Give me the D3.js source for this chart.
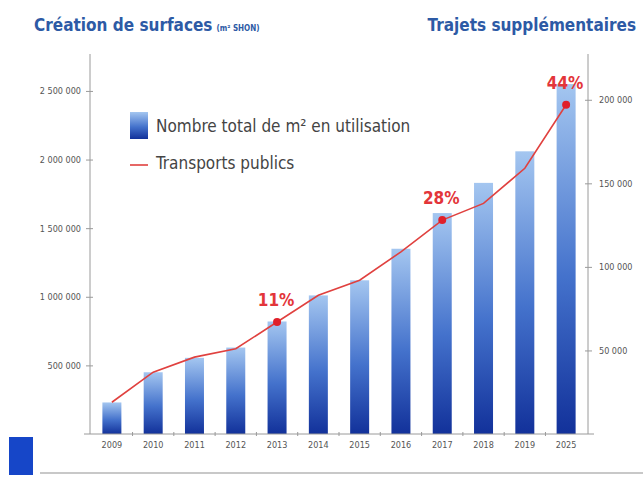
<!DOCTYPE html>
<html>
<head>
<meta charset="utf-8">
<script src="https://cdn.jsdelivr.net/npm/d3@7"></script>
<style>
  body { margin: 0; background: #fff; }
  svg { display: block; }
</style>
</head>
<body>
<div id="chart"></div>
<script>
// data
const years = ['2009', '2010', '2011', '2012', '2013', '2014', '2015', '2016', '2017', '2018', '2019', '2025'];
const surfaces = [230000, 450000, 555000, 630000, 820000, 1010000, 1120000, 1350000, 1610000, 1830000, 2060000, 2550000];
const trajets = [19000, 37000, 46000, 51000, 67000, 83000, 92000, 109000, 128000, 138000, 159000, 197000];
const leftTicks = [500000, 1000000, 1500000, 2000000, 2500000];
const rightTicks = [50000, 100000, 150000, 200000];
const highlights = [{ year: '2013', label: '11%' }, { year: '2017', label: '28%' }, { year: '2025', label: '44%' }];

const width = 643, height = 482;
const margin = { top: 58, right: 55, bottom: 48, left: 90 };
const font = '"Liberation Sans Narrow", "DejaVu Sans Condensed", sans-serif';

const svg = d3.select('#chart').append('svg')
  .attr('width', width)
  .attr('height', height)
  .style('font-family', font);

const x = d3.scaleBand()
  .domain(years)
  .range([margin.left, width - margin.right])
  .paddingInner(0.54)
  .paddingOuter(0.3);

const yLeft = d3.scaleLinear()
  .domain([0, 2740000])
  .range([height - margin.bottom, margin.top]);

const yRight = d3.scaleLinear()
  .domain([0, 225000])
  .range([height - margin.bottom, margin.top]);

// bar gradient
const grad = svg.append('defs').append('linearGradient')
  .attr('id', 'barGrad')
  .attr('x1', 0).attr('y1', 0).attr('x2', 0).attr('y2', 1);
grad.append('stop').attr('offset', '0%').attr('stop-color', '#a4c6f0');
grad.append('stop').attr('offset', '55%').attr('stop-color', '#4472cc');
grad.append('stop').attr('offset', '100%').attr('stop-color', '#12319a');

// titles
svg.append('text')
  .attr('x', 34).attr('y', 31)
  .attr('fill', '#2d5aa5')
  .attr('font-size', 17).attr('font-weight', 'bold')
  .text('Création de surfaces')
  .append('tspan')
  .attr('font-size', 8)
  .attr('dx', 4)
  .text('(m² SHON)');

svg.append('text')
  .attr('x', 636).attr('y', 31)
  .attr('text-anchor', 'end')
  .attr('fill', '#2d5aa5')
  .attr('font-size', 17).attr('font-weight', 'bold')
  .text('Trajets supplémentaires');

// bars
svg.append('g')
  .selectAll('rect')
  .data(years)
  .join('rect')
  .attr('x', d => x(d))
  .attr('y', (d, i) => yLeft(surfaces[i]))
  .attr('width', x.bandwidth())
  .attr('height', (d, i) => yLeft(0) - yLeft(surfaces[i]))
  .attr('fill', 'url(#barGrad)');

// left axis
const leftAxis = svg.append('g')
  .attr('transform', `translate(${margin.left},0)`)
  .call(d3.axisLeft(yLeft).tickValues(leftTicks)
    .tickFormat(d => d3.format(',')(d).replace(/,/g, ' '))
    .tickSize(4).tickPadding(5));
leftAxis.select('.domain').attr('d', `M0,${yLeft(0)}V${margin.top - 4}`);

// right axis
const rightAxis = svg.append('g')
  .attr('transform', `translate(${width - margin.right},0)`)
  .call(d3.axisRight(yRight).tickValues(rightTicks)
    .tickFormat(d => d3.format(',')(d).replace(/,/g, ' '))
    .tickSize(4).tickPadding(7));
rightAxis.select('.domain').attr('d', `M0,${yRight(0)}V${margin.top - 4}`);

// ticks crossing the axis lines
leftAxis.selectAll('.tick line').attr('x1', 3);
rightAxis.selectAll('.tick line').attr('x1', -3);

// bottom axis
const bottomAxis = svg.append('g')
  .attr('transform', `translate(0,${yLeft(0)})`)
  .call(d3.axisBottom(x).tickSize(0).tickPadding(8));
bottomAxis.select('.domain').attr('d', `M${margin.left - 6},0H${width - margin.right + 6}`);

// small ticks between the bars
svg.append('g')
  .selectAll('line')
  .data(years.slice(1))
  .join('line')
  .attr('x1', d => x(d) - x.step() * x.paddingInner() / 2)
  .attr('x2', d => x(d) - x.step() * x.paddingInner() / 2)
  .attr('y1', yLeft(0) - 2)
  .attr('y2', yLeft(0) + 2)
  .attr('stroke', '#999');

svg.selectAll('.domain, .tick line').attr('stroke', '#9a9a9a');
svg.selectAll('.tick text').attr('fill', '#555').attr('font-size', 9).style('font-family', font);

// line
const line = d3.line()
  .x((d, i) => x(years[i]) + x.bandwidth() / 2)
  .y(d => yRight(d));

svg.append('path')
  .datum(trajets)
  .attr('d', line)
  .attr('fill', 'none')
  .attr('stroke', '#e0413f')
  .attr('stroke-width', 1.6);

const hl = highlights.map(h => ({ ...h, value: trajets[years.indexOf(h.year)] }));

svg.append('g')
  .selectAll('circle')
  .data(hl)
  .join('circle')
  .attr('cx', d => x(d.year) + x.bandwidth() / 2)
  .attr('cy', d => yRight(d.value))
  .attr('r', 4)
  .attr('fill', '#e0202a');

svg.append('g')
  .selectAll('text')
  .data(hl)
  .join('text')
  .attr('x', d => x(d.year) + x.bandwidth() / 2 - 1)
  .attr('y', d => yRight(d.value) - 16)
  .attr('text-anchor', 'middle')
  .attr('fill', '#e3353a')
  .attr('font-size', 17)
  .attr('font-weight', 'bold')
  .text(d => d.label);

// legend
const legend = svg.append('g').attr('transform', 'translate(130,112)');
legend.append('rect')
  .attr('width', 18).attr('height', 27)
  .attr('fill', 'url(#barGrad)');
legend.append('text')
  .attr('x', 26).attr('y', 20)
  .attr('fill', '#444')
  .attr('font-size', 17)
  .text('Nombre total de m² en utilisation');
legend.append('line')
  .attr('x1', 0).attr('x2', 18)
  .attr('y1', 53).attr('y2', 53)
  .attr('stroke', '#e0413f').attr('stroke-width', 1.6);
legend.append('text')
  .attr('x', 26).attr('y', 57)
  .attr('fill', '#444')
  .attr('font-size', 17)
  .text('Transports publics');

// footer decorations
svg.append('rect')
  .attr('x', 9).attr('y', 437)
  .attr('width', 24).attr('height', 38)
  .attr('fill', '#1646c8');

svg.append('line')
  .attr('x1', 40).attr('x2', width)
  .attr('y1', 473).attr('y2', 473)
  .attr('stroke', '#c8c8c8').attr('stroke-width', 2);
</script>
</body>
</html>
